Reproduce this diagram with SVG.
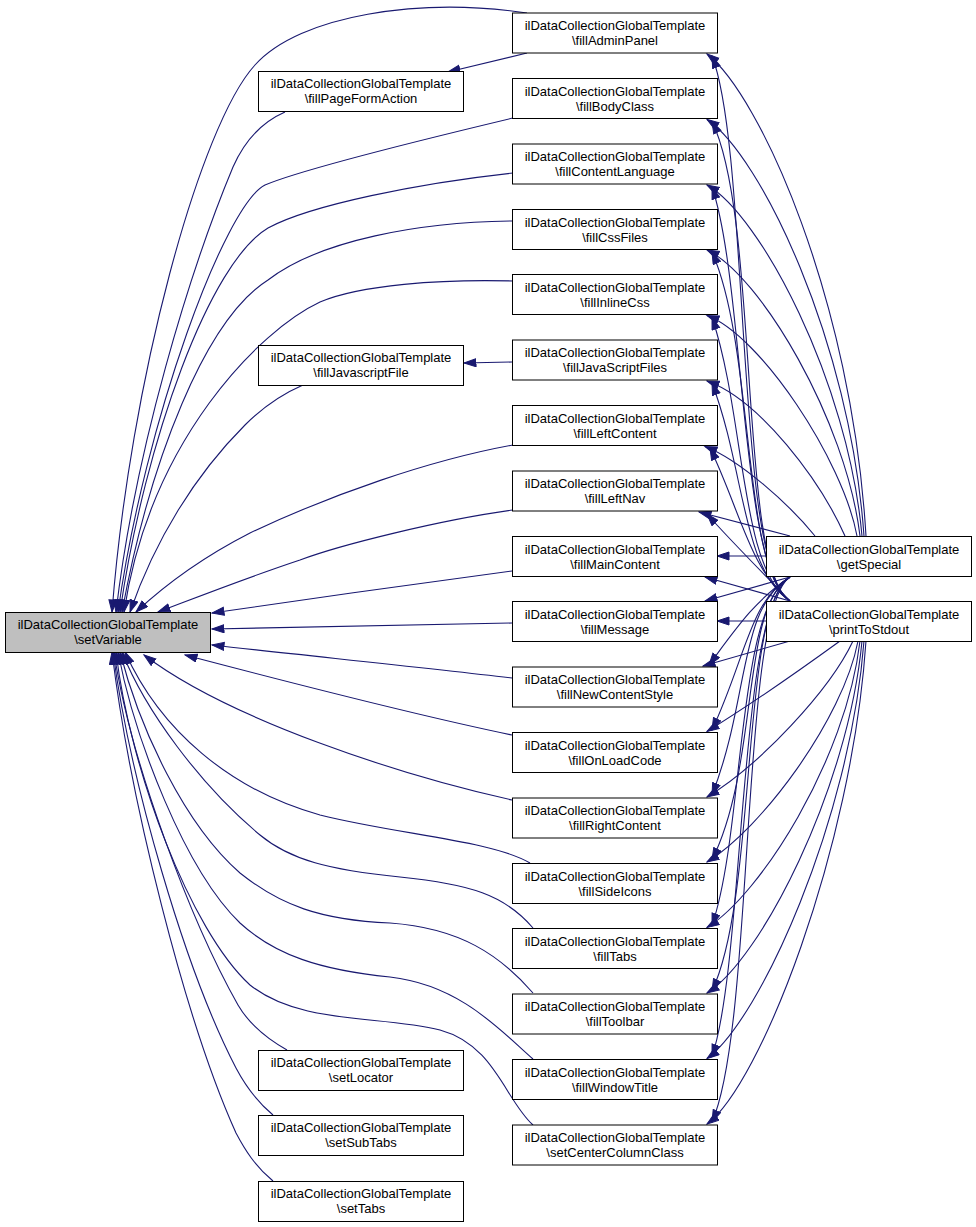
<svg xmlns="http://www.w3.org/2000/svg" width="976" height="1227" viewBox="0 0 976 1227">
<style>
.n rect{fill:#ffffff;stroke:#000000;stroke-width:1}
.n.h rect{fill:#bfbfbf}
.n text{font-family:"Liberation Sans",Arial,Helvetica,sans-serif;font-size:13px;fill:#000000;text-anchor:middle}
#edges path{fill:none;stroke:#191970;stroke-width:1.1;marker-end:url(#ah)}
</style>
<defs>
<marker id="ah" markerUnits="userSpaceOnUse" markerWidth="14" markerHeight="10" refX="12.5" refY="4.5" orient="auto">
<path d="M0.5,0.5 L12.5,4.5 L0.5,8.5 z" fill="#191970" stroke="#191970" stroke-width="1"/>
</marker>
</defs>
<rect width="976" height="1227" fill="#ffffff"/>
<g id="edges">
<!-- into setVariable, upper -->
<path d="M527,13 C420,-3 300,15 255,65 C200,125 130,380 112,612"/>
<path d="M285,112 C262,122 245,140 233,167 C190,270 135,450 116,612"/>
<path d="M513,118 C400,145 300,170 265,185 C225,205 145,420 118,612"/>
<path d="M513,173 C420,183 310,205 268,228 C210,262 145,440 120,612"/>
<path d="M513,221 C420,222 320,240 268,280 C205,320 150,460 122,612"/>
<path d="M513,281 C440,279 360,285 320,302 C260,330 150,440 124,612"/>
<path d="M303,385 C280,395 260,410 245,425 C195,475 155,540 130,612"/>
<path d="M513,445 C430,460 330,495 250,533 C205,556 165,585 136,612"/>
<path d="M513,510 C440,520 340,545 300,560 C240,580 190,600 158,612"/>
<path d="M512,571 C430,582 300,600 212,613"/>
<path d="M512,623 L212,629"/>
<path d="M512,678 C430,668 300,655 212,645"/>
<!-- into setVariable, lower -->
<path d="M512,735 C430,718 280,680 185,655"/>
<path d="M512,800 C400,775 230,720 144,655"/>
<path d="M530,863 C490,840 400,835 320,815 C230,790 160,730 125,652"/>
<path d="M533,928 C505,895 470,884 400,877 C330,870 290,860 260,835 C200,785 145,710 122,652"/>
<path d="M533,993 C500,955 460,928 390,923 C320,920 280,905 240,873 C185,825 140,730 120,652"/>
<path d="M533,1059 C500,1030 460,985 390,977 C320,970 275,955 240,923 C185,870 135,740 118,652"/>
<path d="M533,1125 C505,1100 495,1045 440,1030 C380,1015 300,1025 250,985 C190,930 130,770 116,652"/>
<path d="M287,1050 C262,1036 248,1022 238,1005 C190,920 130,760 114,652"/>
<path d="M273,1115 C255,1100 245,1085 236,1068 C185,970 130,780 113,652"/>
<path d="M273,1181 C255,1166 245,1150 236,1133 C185,1020 130,800 112,652"/>
<!-- column 3 to column 2 -->
<path d="M527,53 L448,72"/>
<path d="M512,362 L464,363"/>
<!-- getSpecial to upper nodes -->
<path d="M866,536 C852,300 760,95 707,54"/>
<path d="M864,536 C850,340 760,155 707,119.5"/>
<path d="M862,536 C848,380 760,215 707,185"/>
<path d="M860,536 C846,420 760,275 707,250"/>
<path d="M857,536 C843,460 760,335 707,315.5"/>
<path d="M845,536 C820,480 760,400 707,381"/>
<path d="M815,536 C790,505 740,460 705,446.5"/>
<path d="M790,536 L699,512"/>
<!-- printToStdout to upper nodes -->
<path d="M790,601 C735,570 750,153 712,56"/>
<path d="M790,601 C738,570 760,218.5 712,121.5"/>
<path d="M790,601 C740,570 745,284 712,187"/>
<path d="M790,601 C742,570 755,349 712,252"/>
<path d="M790,601 C740,570 745,414.5 712,317.5"/>
<path d="M790,601 C742,570 745,470 712,383"/>
<path d="M790,601 C750,570 740,510 710,448"/>
<path d="M790,601 C760,570 730,540 707,514"/>
<!-- middle -->
<path d="M766,556 L717,556"/>
<path d="M790,601 L705,577"/>
<path d="M766,621 L717,621"/>
<path d="M790,577 L705,601"/>
<!-- printToStdout to lower nodes -->
<path d="M790,641 L703,666"/>
<path d="M840,641 C800,670 750,705 707,731.5"/>
<path d="M853,641 C830,690 760,765 707,797"/>
<path d="M858,641 C843,720 760,830 707,862"/>
<path d="M860,641 C846,760 760,895 707,927.5"/>
<path d="M862,641 C848,790 760,960 707,993"/>
<path d="M864,641 C850,820 760,1020 707,1058.5"/>
<path d="M866,641 C852,850 760,1085 707,1124"/>
<!-- getSpecial to lower nodes -->
<path d="M790,577 C755,600 735,630 709,665"/>
<path d="M790,577 C750,600 745,660 712,730"/>
<path d="M790,577 C738,608 750,698 712,795"/>
<path d="M790,577 C740,608 760,763 712,860"/>
<path d="M790,577 C736,608 745,828.5 712,925.5"/>
<path d="M790,577 C740,608 758,894 712,991"/>
<path d="M790,577 C738,608 745,959.5 712,1056.5"/>
<path d="M790,577 C740,608 755,1025 712,1122"/>
</g>
<g id="setVariable" class="n h"><rect x="5.5" y="612.5" width="205" height="40"/><text x="108" y="629">ilDataCollectionGlobalTemplate</text><text x="108" y="644">\setVariable</text></g>
<g id="fillPageFormAction" class="n"><rect x="258.5" y="71.5" width="205" height="40"/><text x="361" y="88">ilDataCollectionGlobalTemplate</text><text x="361" y="103">\fillPageFormAction</text></g>
<g id="fillJavascriptFile" class="n"><rect x="258.5" y="345.5" width="205" height="40"/><text x="361" y="362">ilDataCollectionGlobalTemplate</text><text x="361" y="377">\fillJavascriptFile</text></g>
<g id="setLocator" class="n"><rect x="258.5" y="1050.5" width="205" height="40"/><text x="361" y="1067">ilDataCollectionGlobalTemplate</text><text x="361" y="1082">\setLocator</text></g>
<g id="setSubTabs" class="n"><rect x="258.5" y="1115.5" width="205" height="40"/><text x="361" y="1132">ilDataCollectionGlobalTemplate</text><text x="361" y="1147">\setSubTabs</text></g>
<g id="setTabs" class="n"><rect x="258.5" y="1181.5" width="205" height="40"/><text x="361" y="1198">ilDataCollectionGlobalTemplate</text><text x="361" y="1213">\setTabs</text></g>
<g id="fillAdminPanel" class="n"><rect x="512.5" y="13" width="205" height="40"/><text x="615" y="30">ilDataCollectionGlobalTemplate</text><text x="615" y="45">\fillAdminPanel</text></g>
<g id="fillBodyClass" class="n"><rect x="512.5" y="78.5" width="205" height="40"/><text x="615" y="95.5">ilDataCollectionGlobalTemplate</text><text x="615" y="110.5">\fillBodyClass</text></g>
<g id="fillContentLanguage" class="n"><rect x="512.5" y="144" width="205" height="40"/><text x="615" y="161">ilDataCollectionGlobalTemplate</text><text x="615" y="176">\fillContentLanguage</text></g>
<g id="fillCssFiles" class="n"><rect x="512.5" y="209.5" width="205" height="40"/><text x="615" y="226.5">ilDataCollectionGlobalTemplate</text><text x="615" y="241.5">\fillCssFiles</text></g>
<g id="fillInlineCss" class="n"><rect x="512.5" y="274.5" width="205" height="40"/><text x="615" y="291.5">ilDataCollectionGlobalTemplate</text><text x="615" y="306.5">\fillInlineCss</text></g>
<g id="fillJavaScriptFiles" class="n"><rect x="512.5" y="340" width="205" height="40"/><text x="615" y="357">ilDataCollectionGlobalTemplate</text><text x="615" y="372">\fillJavaScriptFiles</text></g>
<g id="fillLeftContent" class="n"><rect x="512.5" y="405.5" width="205" height="40"/><text x="615" y="422.5">ilDataCollectionGlobalTemplate</text><text x="615" y="437.5">\fillLeftContent</text></g>
<g id="fillLeftNav" class="n"><rect x="512.5" y="471" width="205" height="40"/><text x="615" y="488">ilDataCollectionGlobalTemplate</text><text x="615" y="503">\fillLeftNav</text></g>
<g id="fillMainContent" class="n"><rect x="512.5" y="536.5" width="205" height="40"/><text x="615" y="553.5">ilDataCollectionGlobalTemplate</text><text x="615" y="568.5">\fillMainContent</text></g>
<g id="fillMessage" class="n"><rect x="512.5" y="601.5" width="205" height="40"/><text x="615" y="618.5">ilDataCollectionGlobalTemplate</text><text x="615" y="633.5">\fillMessage</text></g>
<g id="fillNewContentStyle" class="n"><rect x="512.5" y="667" width="205" height="40"/><text x="615" y="684">ilDataCollectionGlobalTemplate</text><text x="615" y="699">\fillNewContentStyle</text></g>
<g id="fillOnLoadCode" class="n"><rect x="512.5" y="732.5" width="205" height="40"/><text x="615" y="749.5">ilDataCollectionGlobalTemplate</text><text x="615" y="764.5">\fillOnLoadCode</text></g>
<g id="fillRightContent" class="n"><rect x="512.5" y="798" width="205" height="40"/><text x="615" y="815">ilDataCollectionGlobalTemplate</text><text x="615" y="830">\fillRightContent</text></g>
<g id="fillSideIcons" class="n"><rect x="512.5" y="863.5" width="205" height="40"/><text x="615" y="880.5">ilDataCollectionGlobalTemplate</text><text x="615" y="895.5">\fillSideIcons</text></g>
<g id="fillTabs" class="n"><rect x="512.5" y="928.5" width="205" height="40"/><text x="615" y="945.5">ilDataCollectionGlobalTemplate</text><text x="615" y="960.5">\fillTabs</text></g>
<g id="fillToolbar" class="n"><rect x="512.5" y="994" width="205" height="40"/><text x="615" y="1011">ilDataCollectionGlobalTemplate</text><text x="615" y="1026">\fillToolbar</text></g>
<g id="fillWindowTitle" class="n"><rect x="512.5" y="1059.5" width="205" height="40"/><text x="615" y="1076.5">ilDataCollectionGlobalTemplate</text><text x="615" y="1091.5">\fillWindowTitle</text></g>
<g id="setCenterColumnClass" class="n"><rect x="512.5" y="1125" width="205" height="40"/><text x="615" y="1142">ilDataCollectionGlobalTemplate</text><text x="615" y="1157">\setCenterColumnClass</text></g>
<g id="getSpecial" class="n"><rect x="766.5" y="536.5" width="205" height="40"/><text x="869" y="553.5">ilDataCollectionGlobalTemplate</text><text x="869" y="568.5">\getSpecial</text></g>
<g id="printToStdout" class="n"><rect x="766.5" y="601.5" width="205" height="40"/><text x="869" y="618.5">ilDataCollectionGlobalTemplate</text><text x="869" y="633.5">\printToStdout</text></g>
</svg>
